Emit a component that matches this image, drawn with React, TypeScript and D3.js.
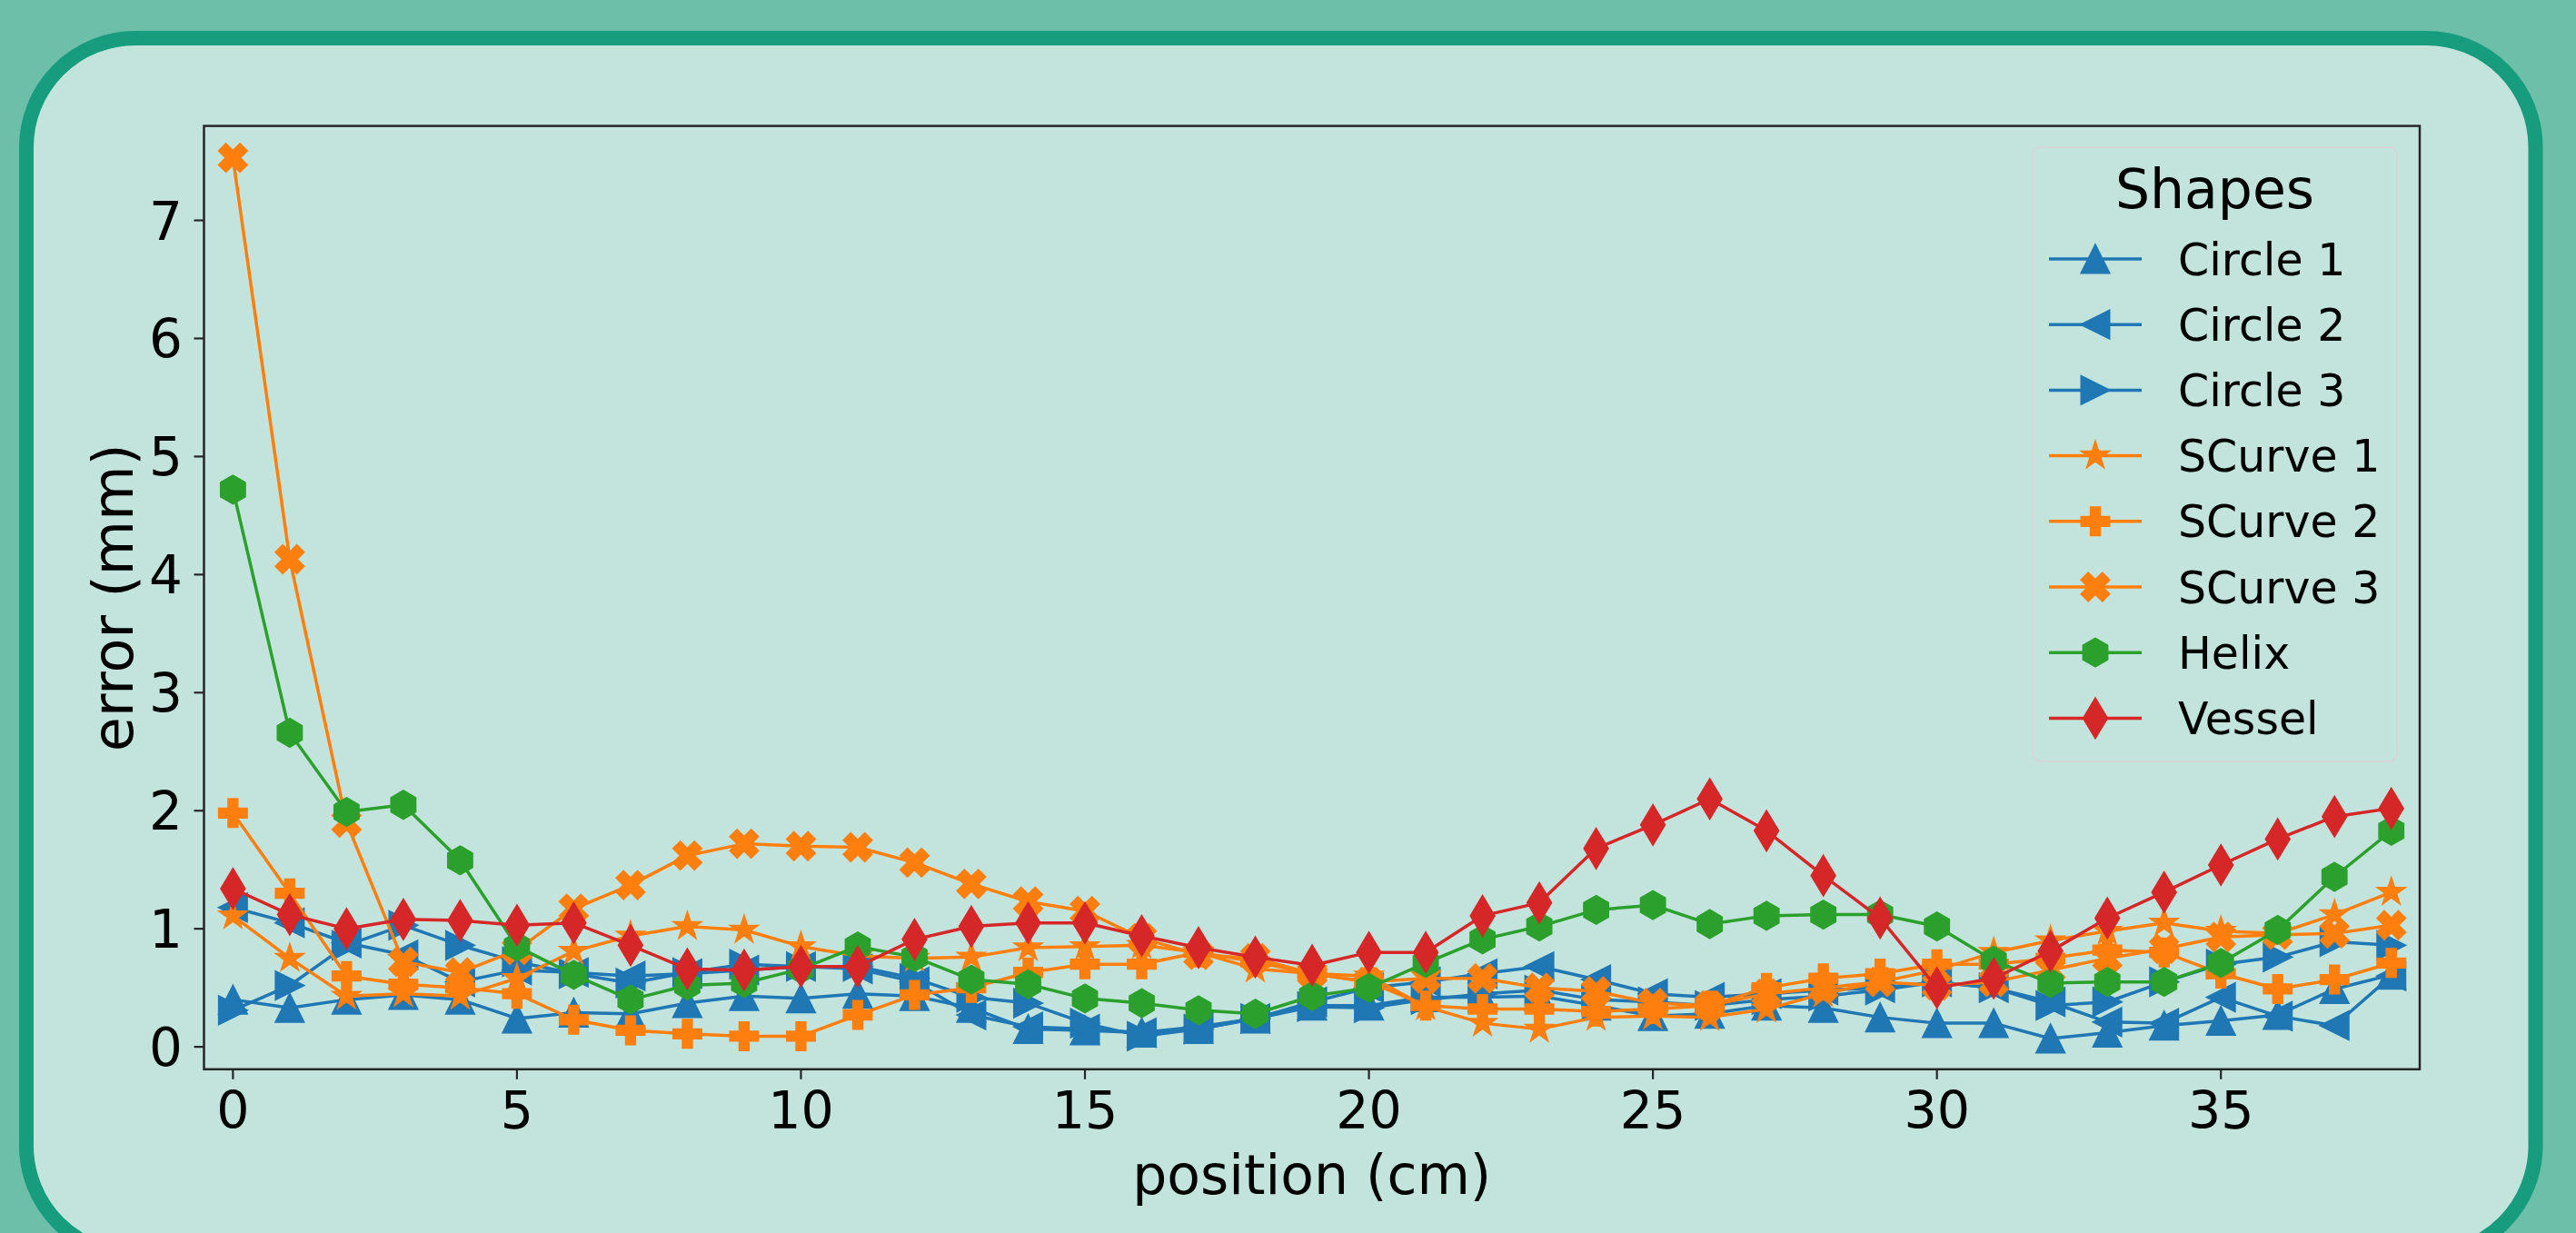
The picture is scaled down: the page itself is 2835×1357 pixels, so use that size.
import React, { useEffect } from "react";
import * as d3 from "d3";

const W = 2835;
const H = 1357;

// tick labels
const xTicks = [0, 5, 10, 15, 20, 25, 30, 35];
const yTicks = [0, 1, 2, 3, 4, 5, 6, 7];

// error (mm) per position (cm) 0..38
const circle1 = [0.40, 0.33, 0.40, 0.44, 0.40, 0.24, 0.29, 0.28, 0.37, 0.43, 0.41, 0.45, 0.43, 0.33, 0.15, 0.14, 0.12, 0.15, 0.24, 0.35, 0.35, 0.42, 0.42, 0.43, 0.35, 0.26, 0.28, 0.35, 0.33, 0.25, 0.20, 0.20, 0.07, 0.12, 0.18, 0.22, 0.27, 0.49, 0.61];
const circle2 = [1.18, 1.05, 0.88, 0.78, 0.55, 0.65, 0.63, 0.60, 0.62, 0.65, 0.68, 0.66, 0.55, 0.27, 0.17, 0.15, 0.12, 0.17, 0.24, 0.38, 0.50, 0.55, 0.62, 0.68, 0.57, 0.45, 0.42, 0.45, 0.48, 0.50, 0.55, 0.50, 0.38, 0.21, 0.20, 0.42, 0.26, 0.18, 0.60];
const circle3 = [0.31, 0.52, 0.86, 1.03, 0.86, 0.72, 0.62, 0.54, 0.63, 0.70, 0.68, 0.68, 0.58, 0.42, 0.37, 0.20, 0.09, 0.15, 0.24, 0.34, 0.33, 0.40, 0.45, 0.48, 0.40, 0.38, 0.35, 0.40, 0.43, 0.48, 0.55, 0.50, 0.35, 0.38, 0.55, 0.70, 0.76, 0.89, 0.86];
const scurve1 = [1.11, 0.75, 0.43, 0.45, 0.43, 0.58, 0.81, 0.94, 1.02, 0.99, 0.85, 0.77, 0.75, 0.76, 0.84, 0.85, 0.86, 0.80, 0.66, 0.62, 0.60, 0.34, 0.20, 0.15, 0.25, 0.26, 0.25, 0.32, 0.45, 0.55, 0.65, 0.80, 0.90, 0.98, 1.05, 0.98, 0.96, 1.12, 1.31];
const scurve2 = [1.98, 1.30, 0.60, 0.53, 0.50, 0.45, 0.23, 0.14, 0.11, 0.09, 0.09, 0.27, 0.44, 0.50, 0.63, 0.70, 0.70, 0.80, 0.72, 0.62, 0.55, 0.35, 0.32, 0.32, 0.30, 0.32, 0.35, 0.50, 0.58, 0.62, 0.70, 0.70, 0.75, 0.82, 0.80, 0.62, 0.49, 0.57, 0.71];
const scurve3 = [7.53, 4.13, 1.90, 0.72, 0.63, 0.82, 1.17, 1.37, 1.62, 1.72, 1.70, 1.69, 1.56, 1.38, 1.23, 1.15, 0.92, 0.78, 0.75, 0.62, 0.55, 0.58, 0.58, 0.50, 0.47, 0.37, 0.35, 0.45, 0.50, 0.55, 0.52, 0.55, 0.65, 0.75, 0.83, 0.93, 0.95, 0.96, 1.03];
const helix = [4.72, 2.66, 1.99, 2.05, 1.58, 0.85, 0.61, 0.40, 0.52, 0.54, 0.66, 0.85, 0.76, 0.57, 0.53, 0.41, 0.37, 0.31, 0.28, 0.43, 0.50, 0.71, 0.91, 1.02, 1.16, 1.20, 1.04, 1.11, 1.12, 1.12, 1.02, 0.73, 0.54, 0.55, 0.55, 0.71, 0.99, 1.44, 1.83];
const vessel = [1.34, 1.12, 1.00, 1.08, 1.07, 1.03, 1.05, 0.86, 0.66, 0.65, 0.68, 0.68, 0.91, 1.02, 1.05, 1.05, 0.94, 0.84, 0.76, 0.69, 0.80, 0.80, 1.11, 1.22, 1.68, 1.88, 2.10, 1.83, 1.45, 1.09, 0.50, 0.58, 0.81, 1.09, 1.31, 1.54, 1.76, 1.95, 2.02];

const BLUE = "#1f77b4";
const ORANGE = "#ff7f0e";
const GREEN = "#2ca02c";
const RED = "#d62728";

const series = [
  { name: "Circle 1", color: BLUE, marker: "up", values: circle1 },
  { name: "Circle 2", color: BLUE, marker: "left", values: circle2 },
  { name: "Circle 3", color: BLUE, marker: "right", values: circle3 },
  { name: "SCurve 1", color: ORANGE, marker: "star", values: scurve1 },
  { name: "SCurve 2", color: ORANGE, marker: "plus", values: scurve2 },
  { name: "SCurve 3", color: ORANGE, marker: "x", values: scurve3 },
  { name: "Helix", color: GREEN, marker: "hex", values: helix },
  { name: "Vessel", color: RED, marker: "diamond", values: vessel },
];

const FONT = "DejaVu Sans, sans-serif";
const MS = 31; // marker size in px

// matplotlib-like marker outlines, unit size
function markerPoints(kind: string): [number, number][] {
  switch (kind) {
    case "up":
      return [[0, -0.5], [-0.5, 0.5], [0.5, 0.5]];
    case "left":
      return [[-0.5, 0], [0.5, -0.5], [0.5, 0.5]];
    case "right":
      return [[0.5, 0], [-0.5, -0.5], [-0.5, 0.5]];
    case "star": {
      const pts: [number, number][] = [];
      for (let k = 0; k < 10; k++) {
        const r = k % 2 === 0 ? 0.5 : 0.5 * 0.381966;
        const a = -Math.PI / 2 + (k * Math.PI) / 5;
        pts.push([r * Math.cos(a), r * Math.sin(a)]);
      }
      return pts;
    }
    case "plus":
      return ([[-1, -3], [1, -3], [1, -1], [3, -1], [3, 1], [1, 1], [1, 3], [-1, 3], [-1, 1], [-3, 1], [-3, -1], [-1, -1]] as [number, number][]).map(
        ([a, b]) => [a / 6, b / 6] as [number, number]
      );
    case "x":
      return ([[-1, -2], [0, -1], [1, -2], [2, -1], [1, 0], [2, 1], [1, 2], [0, 1], [-1, 2], [-2, 1], [-1, 0], [-2, -1]] as [number, number][]).map(
        ([a, b]) => [a / 4, b / 4] as [number, number]
      );
    case "hex": {
      const pts: [number, number][] = [];
      for (let k = 0; k < 6; k++) {
        const a = -Math.PI / 2 + (k * Math.PI) / 3;
        pts.push([0.5 * Math.cos(a), 0.5 * Math.sin(a)]);
      }
      return pts;
    }
    case "diamond":
    default:
      return [[0, -0.7071], [0.4243, 0], [0, 0.7071], [-0.4243, 0]];
  }
}

function markerPath(kind: string, size: number) {
  const pts = markerPoints(kind);
  return "M" + pts.map(([a, b]) => `${(a * size).toFixed(2)},${(b * size).toFixed(2)}`).join("L") + "Z";
}

export default function App() {
  useEffect(() => {
    document.body.style.margin = "0";
    document.body.style.overflow = "hidden";
  }, []);

  const plot = { left: 224.5, right: 2663, top: 138.6, bottom: 1176.8 };

  const x = d3.scaleLinear().domain([-0.51, 38.5]).range([plot.left, plot.right]);
  const y = d3.scaleLinear().domain([-0.19, 7.8]).range([plot.bottom, plot.top]);

  const line = d3
    .line<number>()
    .x((_, i) => x(i))
    .y((d) => y(d));

  const legend = { left: 2237, right: 2638, top: 162, bottom: 838 };
  const legendRow = (i: number) => 285 + i * 72.2;

  return (
    <svg
      width={W}
      height={H}
      viewBox={`0 0 ${W} ${H}`}
      style={{ position: "absolute", left: 0, top: 0, display: "block" }}
      fontFamily={FONT}
    >
      {/* outer card */}
      <rect x={0} y={0} width={W} height={H} fill="#6dbfaa" />
      <rect x={29} y={42} width={2761.5} height={1339} rx={120} ry={120} fill="#c3e4dc" stroke="#179c7d" strokeWidth={16} />

      {/* series */}
      {series.map((s) => (
        <g key={s.name}>
          <path d={line(s.values) || ""} fill="none" stroke={s.color} strokeWidth={3.5} strokeLinejoin="round" />
          {s.values.map((v, i) => (
            <path
              key={i}
              d={markerPath(s.marker, MS)}
              transform={`translate(${x(i)},${y(v)})`}
              fill={s.color}
              stroke={s.color}
              strokeWidth={2}
              strokeLinejoin="miter"
            />
          ))}
        </g>
      ))}

      {/* axes frame */}
      <rect
        x={plot.left}
        y={plot.top}
        width={plot.right - plot.left}
        height={plot.bottom - plot.top}
        fill="none"
        stroke="#262626"
        strokeWidth={2.5}
      />

      {/* x ticks */}
      {xTicks.map((t) => (
        <g key={`x${t}`} transform={`translate(${x(t)},0)`}>
          <line y1={plot.bottom} y2={plot.bottom + 11} stroke="#262626" strokeWidth={2.2} />
          <text y={1242} textAnchor="middle" fontSize={57} fill="#000">
            {t}
          </text>
        </g>
      ))}

      {/* y ticks */}
      {yTicks.map((t) => (
        <g key={`y${t}`} transform={`translate(0,${y(t)})`}>
          <line x1={plot.left - 11} x2={plot.left} stroke="#262626" strokeWidth={2.2} />
          <text x={201} dy={21} textAnchor="end" fontSize={58} fill="#000">
            {t}
          </text>
        </g>
      ))}

      {/* axis labels */}
      <text x={(plot.left + plot.right) / 2} y={1314} textAnchor="middle" fontSize={60} fill="#000">
        position (cm)
      </text>
      <text transform={`translate(146,${(plot.top + plot.bottom) / 2}) rotate(-90)`} textAnchor="middle" fontSize={62} fill="#000">
        error (mm)
      </text>

      {/* legend */}
      <rect
        x={legend.left}
        y={legend.top}
        width={legend.right - legend.left}
        height={legend.bottom - legend.top}
        rx={8}
        fill="#c3e4dc"
        fillOpacity={0.8}
        stroke="#d6d6d6"
        strokeWidth={2}
      />
      <text x={(legend.left + legend.right) / 2} y={229} textAnchor="middle" fontSize={60} fill="#000">
        Shapes
      </text>
      {series.map((s, i) => (
        <g key={`lg${s.name}`} transform={`translate(0,${legendRow(i)})`}>
          <line x1={2255} x2={2357} stroke={s.color} strokeWidth={3.5} />
          <path
            d={markerPath(s.marker, MS)}
            transform="translate(2306,0)"
            fill={s.color}
            stroke={s.color}
            strokeWidth={2}
          />
          <text x={2397} dy={17.5} fontSize={49} fill="#000">
            {s.name}
          </text>
        </g>
      ))}
    </svg>
  );
}
